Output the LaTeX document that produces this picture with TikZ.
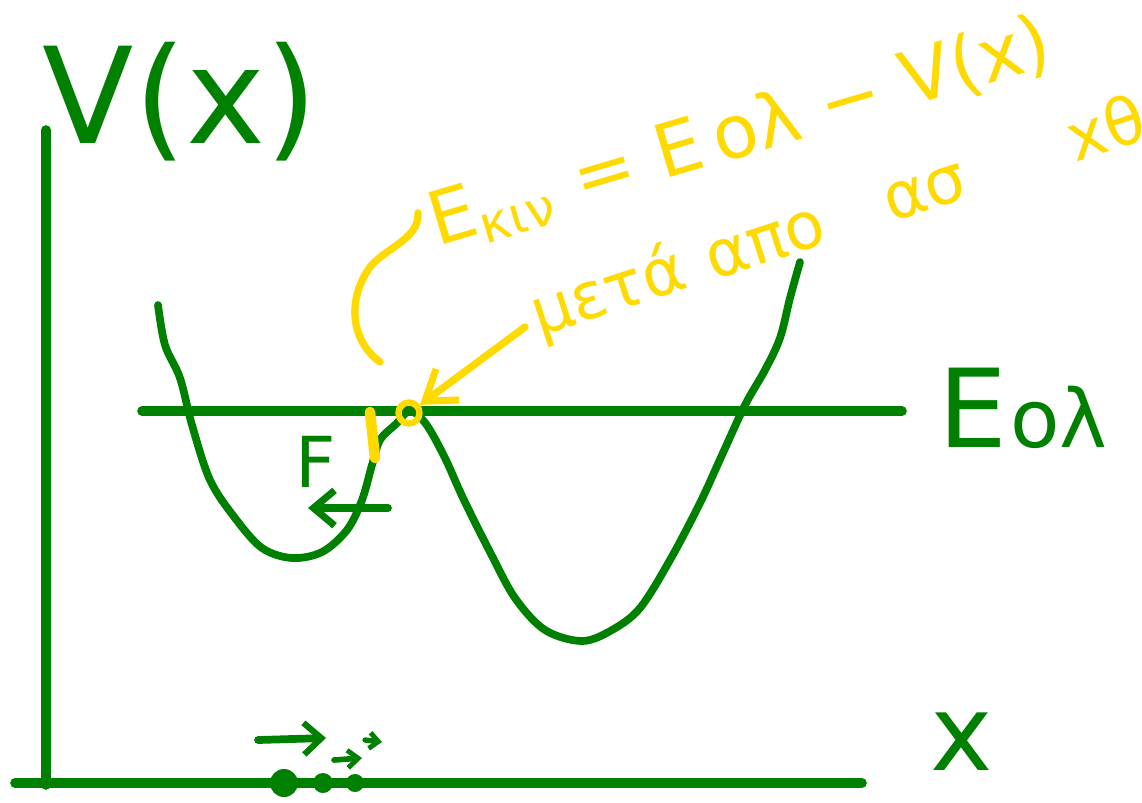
\documentclass[tikz,border=0pt]{standalone}
\usepackage{fontspec}
\setmainfont{DejaVu Sans}
\usetikzlibrary{arrows.meta}
\definecolor{pen}{RGB}{0,128,0}
\definecolor{hl}{RGB}{255,218,0}
\tikzset{
  axisline/.style={draw=pen,line width=5.5pt,line cap=round},
  curveline/.style={draw=pen,line width=4.4pt,line cap=round,line join=round},
  hlline/.style={draw=hl,line width=4.2pt,line cap=round,line join=round},
  greentext/.style={text=pen,inner sep=0pt},
  hltext/.style={text=hl,inner sep=0pt},
  dotnode/.style={circle,fill=pen,inner sep=0pt}
}
\begin{document}
\begin{tikzpicture}[x=0.02cm,y=-0.02cm]
\useasboundingbox (0,0) rectangle (1142,802);
% axes
\coordinate (yt) at (46,130);
\coordinate (o) at (46,785);
\coordinate (xr) at (862,783);
\coordinate (xl) at (15,783);
\draw[axisline] (yt) -- (o);
\draw[axisline] (xl) -- (xr);
% energy line
\coordinate (el) at (142,411);
\coordinate (er) at (902,411);
\draw[axisline] (el) -- (er);
% potential curve
\draw[curveline] plot[smooth,tension=0.55] coordinates {
 (158,305) (165,345) (180,378) (192,425) (210,480) (235,518) (262,548) (292,558)
 (322,552) (347,530) (362,500) (372,465) (380,440) (396,424) (410,411)
 (426,424) (445,458) (463,498) (490,552) (515,598) (545,630) (582,641)
 (612,630) (640,608) (670,560) (700,503) (722,455) (745,405) (765,370)
 (780,338) (790,298) (800,262)};
% labels
\node[greentext,font=\fontsize{76}{90}\selectfont] (vx) at (180,102) {V(x)};
\node[greentext,anchor=west] (eol) at (938,408)
  {{\fontsize{62}{70}\selectfont Ε}\,{\fontsize{46}{54}\selectfont ολ}};
\node[greentext,font=\fontsize{60}{70}\selectfont] (xlab) at (962,742) {x};
\node[greentext,font=\fontsize{40}{48}\selectfont] (F) at (316,462) {F};
\coordinate (fa) at (388,508);
\coordinate (fb) at (308,508);
\draw[curveline,-{Straight Barb[length=12pt,width=20pt,line width=4pt]}] (fa) -- (fb);
% yellow marks
\coordinate (ya) at (370,412);
\coordinate (yb) at (375,458);
\draw[draw=hl,line width=6pt,line cap=round] (ya) -- (yb);
\node[circle,draw=hl,line width=3.6pt,minimum size=0.42cm,inner sep=0pt] (pt) at (409,413) {};
\coordinate (arrs) at (525,327);
\draw[hlline,-{Straight Barb[length=16pt,width=22pt,line width=4pt]}] (arrs) -- (pt);
\coordinate (b1) at (418,213);
\coordinate (b2) at (380,362);
\draw[hlline] (b1) .. controls (420,240) and (380,250) .. (368,270)
  .. controls (348,300) and (350,340) .. (b2);
\node[hltext,rotate=16.5,anchor=south west] (ekin) at (440,258)
  {\resizebox{12.9cm}{!}{Ε\textsubscript{κιν} = Ε\,ολ − V(x)}};
\node[hltext,rotate=18,anchor=south west,font=\fontsize{37}{44}\selectfont] (meta) at (543,350)
  {μετά\hspace{0.5cm}απο\hspace{1.3cm}ασ\hspace{2.2cm}xθ};
% bottom dots and arrows
\node[dotnode,minimum size=0.56cm] (d1) at (284,783) {};
\node[dotnode,minimum size=0.4cm] (d2) at (323,783) {};
\node[dotnode,minimum size=0.36cm] (d3) at (355,783) {};
\coordinate (a1s) at (258,740);
\coordinate (a1e) at (326,738);
\coordinate (a2s) at (334,760);
\coordinate (a2e) at (362,758);
\coordinate (a3s) at (365,740);
\coordinate (a3e) at (382,742);
\draw[curveline,-{Straight Barb[length=10pt,width=18pt,line width=3.5pt]}] (a1s) -- (a1e);
\draw[curveline,line width=3.2pt,-{Straight Barb[length=6pt,width=10pt,line width=2.8pt]}] (a2s) -- (a2e);
\draw[curveline,line width=3pt,-{Straight Barb[length=5pt,width=9pt,line width=2.8pt]}] (a3s) -- (a3e);
\end{tikzpicture}
\end{document}
